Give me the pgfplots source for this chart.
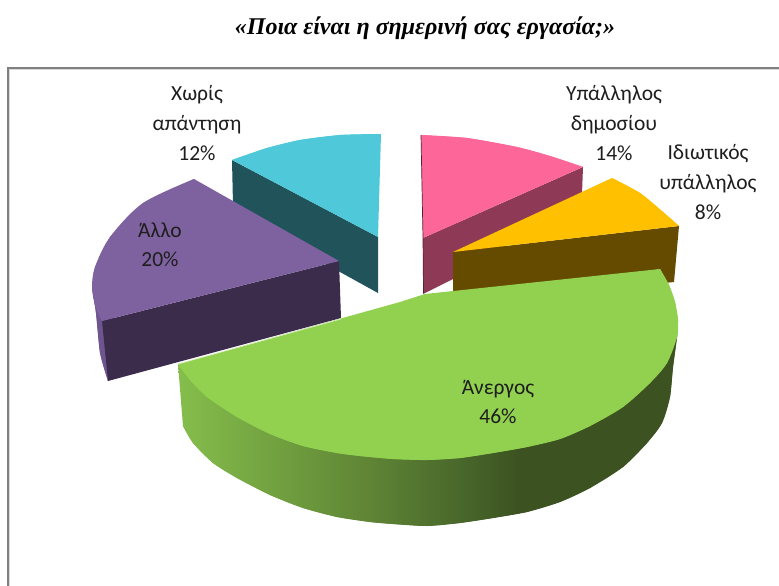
\documentclass[border=0pt]{standalone}
\usepackage{fontspec}
\setmainfont{Carlito}
\newfontfamily\titlefont{Liberation Serif}
\usepackage{pgfplots}
\pgfplotsset{compat=1.18}
\definecolor{cyT}{HTML}{4FC8D9}\definecolor{cyS}{HTML}{20535A}
\definecolor{puT}{HTML}{7E619F}\definecolor{puS}{HTML}{3C2C4C}\definecolor{puE}{HTML}{6F5590}
\definecolor{piT}{HTML}{FC6698}\definecolor{piS}{HTML}{8E3A57}
\definecolor{orT}{HTML}{FFC000}\definecolor{orS}{HTML}{654B00}
\definecolor{grT}{HTML}{92D050}
\definecolor{lab}{HTML}{1E1E1E}
\definecolor{grA}{HTML}{85BE4C}\definecolor{grB}{HTML}{5F8535}
\definecolor{grC}{HTML}{47652A}\definecolor{grD}{HTML}{3C5321}
\pgfdeclarehorizontalshading{grside}{100bp}{color(0bp)=(grA);
 color(25bp)=(grA); color(44bp)=(grB); color(54bp)=(grC); color(59bp)=(grD); color(100bp)=(grD)}
\begin{document}
\begin{tikzpicture}
\begin{axis}[scale only axis, width=779pt, height=586pt, xmin=0, xmax=779, ymin=0, ymax=586,
  y dir=reverse, hide axis, clip=true]
% frame
\addplot[draw=none, fill=white] coordinates {(0,0)(779,0)(779,586)(0,586)};
\addplot[draw=black!15, line width=0.8pt] coordinates {(9.6,586)(9.6,69.8)(779,69.8)};
\addplot[draw=black!50, line width=2.2pt] coordinates {(8,586)(8,68)(779,68)};
% cyan
\addplot[draw=none, fill=cyS] coordinates {(232,160)(378,237)(378,293)(340,272)(233,205)};
\addplot[draw=none, fill=cyT] coordinates {(378,237)(232,160)(267,148)(300,140)(340,135)(381,134)};
\addplot[draw=none, fill=cyT, smooth] coordinates {(232,160)(267,148)(300,140)(340,135)(381,134)};
% pink
\addplot[draw=none, fill=piS] coordinates {(583,167)(582,194)(453,279)(423,294)(423,238)};
\addplot[draw=none, fill=piT] coordinates {(423,238)(421,135)(467,138)(517,147)(550,156)(583,167)};
\addplot[draw=none, fill=piT, smooth] coordinates {(421,135)(467,138)(517,147)(550,156)(583,167)};
\addplot[draw=piS!60!black, line width=0.7pt] coordinates {(421,135)(423,238)(423.5,293)};
% orange
\addplot[draw=none, fill=orS] coordinates {(453,252)(679,226)(674,282)(600,290)(453,294)};
\addplot[draw=none, fill=orT] coordinates {(453,252)(612,178)(640,193)(663,212)(679,226)};
\addplot[draw=none, fill=orT, smooth] coordinates {(612,178)(640,193)(663,212)(679,226)};
% purple
\addplot[draw=none, fill=puE, smooth] coordinates {(92,287)(96,313)(100,353)(108,381)};
\addplot[draw=none, fill=puE] coordinates {(92,287)(96,313)(100,353)(108,381)(125,360)(110,300)};
\addplot[draw=none, fill=puS] coordinates {(102,321)(339,261)(341,318)(108,381)};
\addplot[draw=none, fill=puT] coordinates {(339,261)(194,179)(143,203)(110,237)(95,267)(92,287)(95,305)(102,321)};
\addplot[draw=none, fill=puT, smooth] coordinates {(194,179)(143,203)(110,237)(95,267)(92,287)(95,305)(102,321)};
% green side
\addplot[draw=none, shading=grside, shading angle=0, smooth] coordinates {(183,426)(193,443)(213,463)(237,478)(270,495)(303,508)(337,517)(370,522)(393,524)(427,526)(460,523)(493,518)(527,512)(560,502)(590,488)(623,467)(647,443)(662,423)(670,397)(673,367)(677,337)(678,320)};
\addplot[draw=none, shading=grside, shading angle=0] coordinates {(178,364)(183,426)(193,443)(213,463)(237,478)(270,495)(303,508)(337,517)(370,522)(393,524)(427,526)(460,523)(493,518)(527,512)(560,502)(590,488)(623,467)(647,443)(662,423)(670,397)(673,367)(677,337)(678,320)(650,340)(420,400)(200,370)};
% green top
\addplot[draw=none, fill=grT] coordinates {(178,364)(400,302)(425,294)(660,269)(669,285)(675,302)(678,320)(677,337)(667,363)(650,383)(623,407)(590,426)(560,439)(527,447)(493,453)(460,458)(427,460)(393,459)(360,456)(337,453)(303,446)(270,434)(237,417)(207,397)(190,380)};
\addplot[draw=none, fill=grT, smooth] coordinates {(660,269)(669,285)(675,302)(678,320)(677,337)(667,363)(650,383)(623,407)(590,426)(560,439)(527,447)(493,453)(460,458)(427,460)(393,459)(360,456)(337,453)(303,446)(270,434)(237,417)(207,397)(190,380)(178,364)};
\addplot[draw=white!70!grT, line width=0.6pt] coordinates {(178,364)(341,319)};
% labels
\node[align=center, text=lab, font=\fontsize{21.5}{30}\selectfont] at (axis cs:197,123) {Χωρίς\\απάντηση\\12\%};
\node[align=center, text=lab, font=\fontsize{21.5}{30}\selectfont] at (axis cs:614,123) {Υπάλληλος\\δημοσίου\\14\%};
\node[align=center, text=lab, font=\fontsize{21.5}{30}\selectfont] at (axis cs:708,182) {Ιδιωτικός\\υπάλληλος\\8\%};
\node[align=center, text=lab, font=\fontsize{21.5}{29}\selectfont] at (axis cs:160,245) {Άλλο\\20\%};
\node[align=center, text=lab, font=\fontsize{21.5}{29}\selectfont] at (axis cs:498,402) {Άνεργος\\46\%};
\node[font=\titlefont\bfseries\itshape\fontsize{24}{28}\selectfont] at (axis cs:425,28) {«Ποια είναι η σημερινή σας εργασία;»};
\end{axis}
\end{tikzpicture}
\end{document}
